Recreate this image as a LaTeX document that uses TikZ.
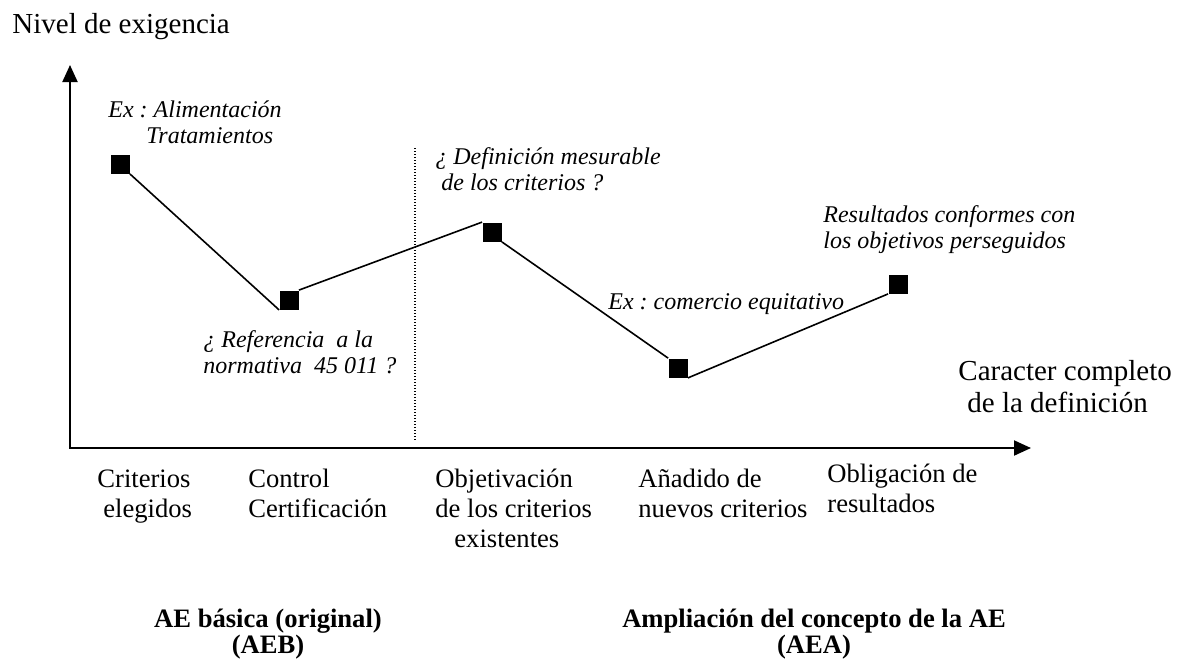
\documentclass[tikz,border=0pt]{standalone}
\usepackage{fontspec}
\setmainfont{Liberation Serif}
\usetikzlibrary{arrows.meta}
\frenchspacing

\tikzstyle{levelpt}=[rectangle,fill=black,inner sep=0pt,minimum size=9.5pt]
\tikzstyle{axislabel}=[font=\fontsize{14.5}{16}\selectfont,align=left,anchor=base west,inner sep=0pt]
\tikzstyle{note}=[font=\fontsize{12}{13}\selectfont\itshape,align=left,anchor=base west,inner sep=0pt]
\tikzstyle{stage}=[font=\fontsize{13.3}{15}\selectfont,align=left,anchor=base west,inner sep=0pt]
\tikzstyle{phase}=[font=\fontsize{13.3}{13}\selectfont\bfseries,align=center,anchor=base,inner sep=0pt]

\begin{document}
\begin{tikzpicture}[x=0.5pt,y=-0.5pt,>={Triangle[length=8.5pt,width=7.5pt]}]
	\useasboundingbox (0,0) rectangle (1179,661);

	% Axes
	\coordinate (O) at (70,448);
	\coordinate (ytip) at (70,65);
	\coordinate (xtip) at (1031,448);
	\draw[line width=1pt,<->] (ytip) -- (O) -- (xtip);

	% Separation AEB / AEA
	\coordinate (dtop) at (415,148);
	\coordinate (dbot) at (415,440);
	\draw[line width=0.6pt,dash pattern=on 0.5pt off 1pt] (dtop) -- (dbot);

	% Points
	\node[levelpt] (p1) at (120,164) {};
	\node[levelpt] (p2) at (289,300) {};
	\node[levelpt] (p3) at (492,232) {};
	\node[levelpt] (p4) at (678,368) {};
	\node[levelpt] (p5) at (898,284) {};
	\draw[line width=0.8pt] (p1.south east) -- (p2.south west)
		(p2.north east) -- (p3.north west)
		(p3.south east) -- (p4.north west)
		(p4.south east) -- (p5.south west);

	% Notes (placed at the baseline of their last line)
	\node[note] (n1) at (108,143) {Ex : Alimentación\\\hspace*{19pt}Tratamientos};
	\node[note] (n2) at (203,373) {¿ Referencia\ \ a la\\normativa\ \ 45 011 ?};
	\node[note] (n3) at (435,190) {¿ Definición mesurable\\\hspace*{3pt}de los criterios ?};
	\node[note] (n4) at (608,309) {Ex : comercio equitativo};
	\node[note] (n5) at (823,248) {Resultados conformes con\\los objetivos perseguidos};

	% Axis labels
	\node[axislabel] (ylab) at (12,33) {Nivel de exigencia};
	\node[axislabel] (xlab) at (958,412) {Caracter completo\\\hspace*{4.5pt}de la definición};

	% Stages
	\node[stage] (s1) at (97,517) {Criterios\\\hspace*{3pt}elegidos};
	\node[stage] (s2) at (248,517) {Control\\Certificación};
	\node[stage] (s3) at (435,547) {Objetivación\\de los criterios\\\hspace*{9.5pt}existentes};
	\node[stage] (s4) at (638,517) {Añadido de\\nuevos criterios};
	\node[stage] (s5) at (827,512) {Obligación de\\resultados};

	% Phases
	\node[phase] (aeb) at (268,653) {AE básica (original)\\(AEB)};
	\node[phase] (aea) at (814,653) {Ampliación del concepto de la AE\\(AEA)};
\end{tikzpicture}
\end{document}
